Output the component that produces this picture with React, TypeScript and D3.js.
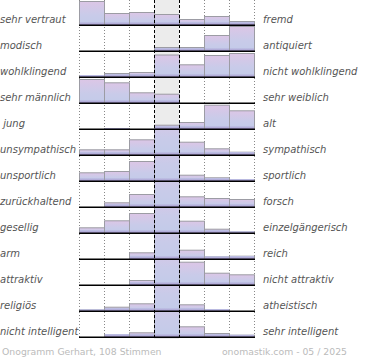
import React, { useEffect } from "react";
import * as d3 from "d3";

const leftLabels = ["sehr vertraut", "modisch", "wohlklingend", "sehr männlich", " jung", "unsympathisch", "unsportlich", "zurückhaltend", "gesellig", "arm", "attraktiv", "religiös", "nicht intelligent"];
const rightLabels = ["fremd", "antiquiert", "nicht wohlklingend", "sehr weiblich", "alt", "sympathisch", "sportlich", "forsch", "einzelgängerisch", "reich", "nicht attraktiv", "atheistisch", "sehr intelligent"];

// estimated bar heights per row, 7 columns (center column values above 25 are cut at the row top)
const row01 = [24, 12, 13, 11, 6, 9, 4];
const row02 = [0, 0, 0, 4, 4, 16, 25];
const row03 = [2, 4, 5, 22.5, 12.7, 22, 24];
const row04 = [24, 20.7, 10.7, 9.3, 0, 0, 0];
const row05 = [0, 1, 0, 4.3, 7, 24.3, 18.7];
const row06 = [5.7, 5.7, 15.7, 40, 13.3, 6.7, 3.3];
const row07 = [8.7, 10, 20, 40, 6.3, 3.7, 2];
const row08 = [0, 4.7, 13, 40, 10.7, 9, 8];
const row09 = [5.7, 12.7, 20, 40, 12.3, 4.3, 1.7];
const row10 = [0, 0, 6.7, 40, 9.3, 2.7, 3.3];
const row11 = [0, 0, 5, 40, 23.3, 12.3, 10.7];
const row12 = [1.7, 4.3, 7.7, 40, 6.7, 2, 0];
const row13 = [0, 3, 4.7, 40, 10.7, 4, 2.3];
const rows = [row01, row02, row03, row04, row05, row06, row07, row08, row09, row10, row11, row12, row13];

const footerLeft = "Onogramm Gerhart, 108 Stimmen";
const footerRight = "onomastik.com - 05 / 2025";

const W = 370;
const H = 360;
const x0 = 79;
const x1 = 254;
const rowStep = 26;
const firstBase = 25;
const rowH = 25;

export default function App() {
  useEffect(() => {
    document.body.style.margin = "0";
  }, []);

  const x = d3.scaleLinear().domain([0, 7]).range([x0, x1]);
  const h = d3.scaleLinear().domain([0, 25]).range([0, rowH]);
  const base = (i: number) => firstBase + rowStep * i;
  const gridTop = 0;
  const gridBottom = base(rows.length - 1) + 2;
  const labelFont = "'DejaVu Sans', sans-serif";

  return (
    <svg width={W} height={H} style={{ display: "block" }}>
      <defs>
        <linearGradient id="barGrad" x1="0" y1="0" x2="0" y2="1">
          <stop offset="0%" stopColor="#dcc6e6" />
          <stop offset="55%" stopColor="#c9cbe9" />
          <stop offset="100%" stopColor="#c2cbe9" />
        </linearGradient>
        <linearGradient id="bandGrad" x1="0" y1="0" x2="0" y2="1">
          <stop offset="0%" stopColor="#c0c4e6" />
          <stop offset="100%" stopColor="#a597cd" />
        </linearGradient>
        {rows.map((_, i) => (
          <clipPath id={`clip${i}`} key={i}>
            <rect x={x0 - 1} y={base(i) - rowH} width={x1 - x0 + 2} height={rowH} />
          </clipPath>
        ))}
      </defs>
      <rect width={W} height={H} fill="#fff" />
      {/* center column background */}
      <rect x={x(3)} y={gridTop} width={x(4) - x(3)} height={gridBottom - gridTop} fill="#ececec" />
      {/* dotted grid */}
      {[0, 1, 2, 5, 6, 7].map((c) => (
        <line key={c} x1={x(c) + 0.5} x2={x(c) + 0.5} y1={gridTop} y2={gridBottom} stroke="#888" strokeWidth={1} strokeDasharray="1,2" />
      ))}
      {/* bars */}
      {rows.map((vals, i) => (
        <g key={i} clipPath={`url(#clip${i})`}>
          {vals.map((v, c) => {
            if (v <= 0) return null;
            const bh = h(v);
            const top = base(i) - bh;
            const band = Math.min(3, bh);
            return (
              <g key={c}>
                <rect x={x(c) + 0.5} y={top + 0.5} width={x(c + 1) - x(c)} height={bh} fill="url(#barGrad)" stroke="#9c9ca4" strokeWidth={1} />
                <rect x={x(c) + 1} y={base(i) - band} width={x(c + 1) - x(c) - 1} height={band} fill="url(#bandGrad)" />
              </g>
            );
          })}
        </g>
      ))}
      {/* dashed center lines */}
      {[3, 4].map((c) => (
        <line key={c} x1={x(c) + 0.5} x2={x(c) + 0.5} y1={gridTop} y2={gridBottom} stroke="#000" strokeWidth={1} strokeDasharray="3,2" />
      ))}
      {/* baselines */}
      {rows.map((_, i) => (
        <line key={i} x1={x0} x2={x1 + 1} y1={base(i) + 0.25} y2={base(i) + 0.25} stroke="#000" strokeWidth={1.5} />
      ))}
      {/* labels */}
      {leftLabels.map((t, i) => (
        <text key={t} x={0} y={base(i) - 2} fontFamily={labelFont} fontStyle="italic" fontSize={10} fill="#555" style={{ whiteSpace: "pre" }}>
          {t}
        </text>
      ))}
      {rightLabels.map((t, i) => (
        <text key={t} x={263} y={base(i) - 2} fontFamily={labelFont} fontStyle="italic" fontSize={10} fill="#555">
          {t}
        </text>
      ))}
      <text x={2} y={355} fontFamily={labelFont} fontSize={9.3} fill="#bbb">{footerLeft}</text>
      <text x={347} y={355} textAnchor="end" fontFamily={labelFont} fontSize={9.3} fill="#bbb">{footerRight}</text>
    </svg>
  );
}
